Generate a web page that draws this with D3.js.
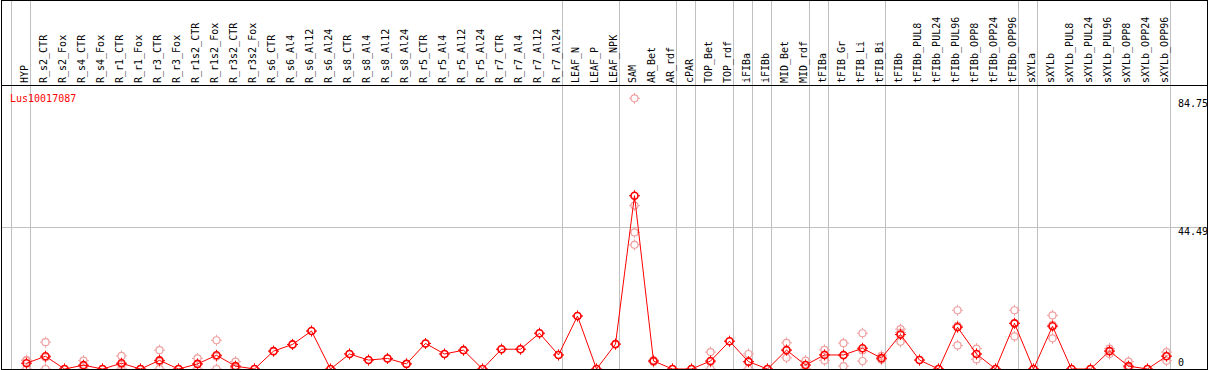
<!DOCTYPE html>
<html>
<head>
<meta charset="utf-8">
<script src="https://cdn.jsdelivr.net/npm/d3@7"></script>
<style>
  body { margin: 0; background: #fff; }
  svg { display: block; }
  text { font-family: "DejaVu Sans Mono", monospace; font-size: 10px; }
</style>
</head>
<body>
<div id="chart"></div>
<script>
var svgWidth = 1209;
var svgHeight = 370;

// sample names (columns)
var categories = ["HYP",
  "R_s2_CTR", "R_s2_Fox", "R_s4_CTR", "R_s4_Fox", "R_r1_CTR", "R_r1_Fox", "R_r3_CTR", "R_r3_Fox",
  "R_r1s2_CTR", "R_r1s2_Fox", "R_r3s2_CTR", "R_r3s2_Fox",
  "R_s6_CTR", "R_s6_Al4", "R_s6_Al12", "R_s6_Al24", "R_s8_CTR", "R_s8_Al4", "R_s8_Al12", "R_s8_Al24",
  "R_r5_CTR", "R_r5_Al4", "R_r5_Al12", "R_r5_Al24", "R_r7_CTR", "R_r7_Al4", "R_r7_Al12", "R_r7_Al24",
  "LEAF_N", "LEAF_P", "LEAF_NPK", "SAM", "AR_Bet", "AR_rdf", "cPAR", "TOP_Bet", "TOP_rdf",
  "iFIBa", "iFIBb", "MID_Bet", "MID_rdf", "tFIBa", "tFIB_Gr", "tFIB_Li", "tFIB_Bi",
  "tFIBb", "tFIBb_PUL8", "tFIBb_PUL24", "tFIBb_PUL96", "tFIBb_OPP8", "tFIBb_OPP24", "tFIBb_OPP96",
  "sXYLa", "sXYLb", "sXYLb_PUL8", "sXYLb_PUL24", "sXYLb_PUL96", "sXYLb_OPP8", "sXYLb_OPP24", "sXYLb_OPP96"];

// number of columns in each separated group
var groupSizes = [1, 28, 3, 3, 1, 2, 1, 1, 2, 1, 3, 7, 1, 7];

// mean expression per sample
var means = [1.8,
  4.0, 0, 1.2, 0, 1.8, 0, 2.7, 0,
  1.6, 4.3, 0.9, 0,
  5.6, 7.7, 11.9, 0, 4.7, 2.8, 3.3, 1.6,
  8.0, 4.7, 5.9, 0, 6.2, 6.2, 11.2, 4.4,
  16.6, 0, 7.8, 54.3, 2.5, 0, 0, 2.5, 8.7,
  2.3, 0, 5.9, 1.25, 4.4, 4.4, 6.5, 3.4,
  10.8, 2.8, 0, 13.1, 4.7, 0, 14.3,
  0, 13.4, 0, 0, 5.6, 0.9, 0, 4.0];

// individual replicates per sample
var replicates = [[2.8, 2.6, 0],
  [8.4, 3.6, 0], [0, 0, 0], [2.6, 1.0, 0], [0, 0, 0], [4.1, 1.3, 0], [0, 0, 0], [5.9, 2.2, 0], [0, 0, 0],
  [3.3, 1.5, 0], [9.0, 3.9, 0], [2.3, 0.4, 0], [0, 0, 0],
  [5.6], [7.7], [11.9], [0], [4.7], [2.8], [3.3], [1.6],
  [8.0], [4.7], [5.9], [0], [6.2], [6.2], [11.2], [4.4],
  [16.6], [0], [7.8], [84.8, 51.2, 42.8, 38.9], [2.2, 2.5, 2.8], [0, 0], [0, 0], [5.3, 2.2, 0], [8.7],
  [4.7, 2.2, 0], [0, 0], [8.2, 6.0, 3.5], [2.6, 1.2, 0], [6.0, 4.5, 2.7], [8.1, 4.2, 0.9], [11.2, 5.8, 2.5], [4.1, 3.2, 2.9],
  [12.5, 11.4, 8.5], [2.8], [0, 0], [18.4, 13.5, 7.4], [6.4, 4.7, 3.0], [0, 0], [18.4, 14.3, 10.2],
  [0, 0], [16.8, 13.8, 9.6], [0, 0], [0, 0], [6.4, 5.7, 4.7], [2.3, 0.4, 0], [0, 0], [5.3, 4.1, 2.6]];

var yTicks = [0, 44.49, 84.75];
var geneName = "Lus10017087";

var svg = d3.select("#chart")
  .append("svg")
  .attr("width", svgWidth)
  .attr("height", svgHeight);

var headerBottom = 85.5;
var plotBottom = 369.5;

var xScale = d3.scalePoint()
  .domain(categories)
  .range([26.5, 1166.5]);

var step = xScale.step();

var yScale = d3.scaleLinear()
  .domain([0, 84.75])
  .range([369, 98.5]);

// group separators (gray vertical lines)
var seps = [xScale(categories[0]) - step + 4];
var idx = -1;
groupSizes.forEach(function(n) {
  idx += n;
  seps.push(xScale(categories[idx]) + 4);
});

svg.selectAll(".sep")
  .data(seps)
  .enter().append("line")
  .attr("x1", d => d).attr("x2", d => d)
  .attr("y1", 0).attr("y2", plotBottom)
  .attr("stroke", "#c0c0c0")
  .attr("stroke-width", 1);

// middle grid line
svg.append("line")
  .attr("x1", 1).attr("x2", 1207)
  .attr("y1", Math.round(yScale(yTicks[1])) + 0.5)
  .attr("y2", Math.round(yScale(yTicks[1])) + 0.5)
  .attr("stroke", "#c0c0c0");

// frame
svg.append("rect")
  .attr("x", 1.5).attr("y", 0.5)
  .attr("width", 1206).attr("height", plotBottom - 0.5)
  .attr("fill", "none")
  .attr("stroke", "#000");

svg.append("line")
  .attr("x1", 1).attr("x2", 1208)
  .attr("y1", headerBottom).attr("y2", headerBottom)
  .attr("stroke", "#000");

// column labels
svg.selectAll(".lab")
  .data(categories)
  .enter().append("text")
  .attr("transform", d => "translate(" + (xScale(d) + 1) + ",83) rotate(-90)")
  .attr("fill", "#000")
  .text(d => d);

// y tick labels
svg.selectAll(".ytick")
  .data(yTicks)
  .enter().append("text")
  .attr("x", 1178)
  .attr("y", (d, i) => i === 0 ? 365.5 : yScale(d) + 8)
  .attr("fill", "#000")
  .text(d => d);

svg.append("text")
  .attr("x", 10)
  .attr("y", 102)
  .attr("fill", "#ff0000")
  .text(geneName);

var plot = svg.append("g");

function marker(g, x, y, color, width) {
  g.append("circle")
    .attr("cx", x).attr("cy", y).attr("r", 3.5)
    .attr("fill", "none")
    .attr("stroke", color)
    .attr("stroke-width", width);
  [0, 90, 180, 270].forEach(function(a) {
    var r = a * Math.PI / 180;
    g.append("line")
      .attr("x1", x + Math.cos(r) * 3.5).attr("y1", y + Math.sin(r) * 3.5)
      .attr("x2", x + Math.cos(r) * 5.5).attr("y2", y + Math.sin(r) * 5.5)
      .attr("stroke", color)
      .attr("stroke-width", 1);
  });
}

// replicate points
categories.forEach(function(c, i) {
  replicates[i].forEach(function(v) {
    marker(plot, xScale(c), yScale(v), "#f0a0a0", 1.2);
  });
});

var lineGenerator = d3.line()
  .x((d, i) => xScale(categories[i]))
  .y(d => yScale(d));

plot.append("path")
  .attr("fill", "none")
  .attr("stroke", "#ff0000")
  .attr("stroke-width", 1)
  .attr("d", lineGenerator(means));

categories.forEach(function(c, i) {
  marker(plot, xScale(c), yScale(means[i]), "#ff0000", 1.6);
});

// redraw the bottom axis line over the markers
svg.append("line")
  .attr("x1", 1).attr("x2", 1208)
  .attr("y1", plotBottom).attr("y2", plotBottom)
  .attr("stroke", "#000");
</script>
</body>
</html>
